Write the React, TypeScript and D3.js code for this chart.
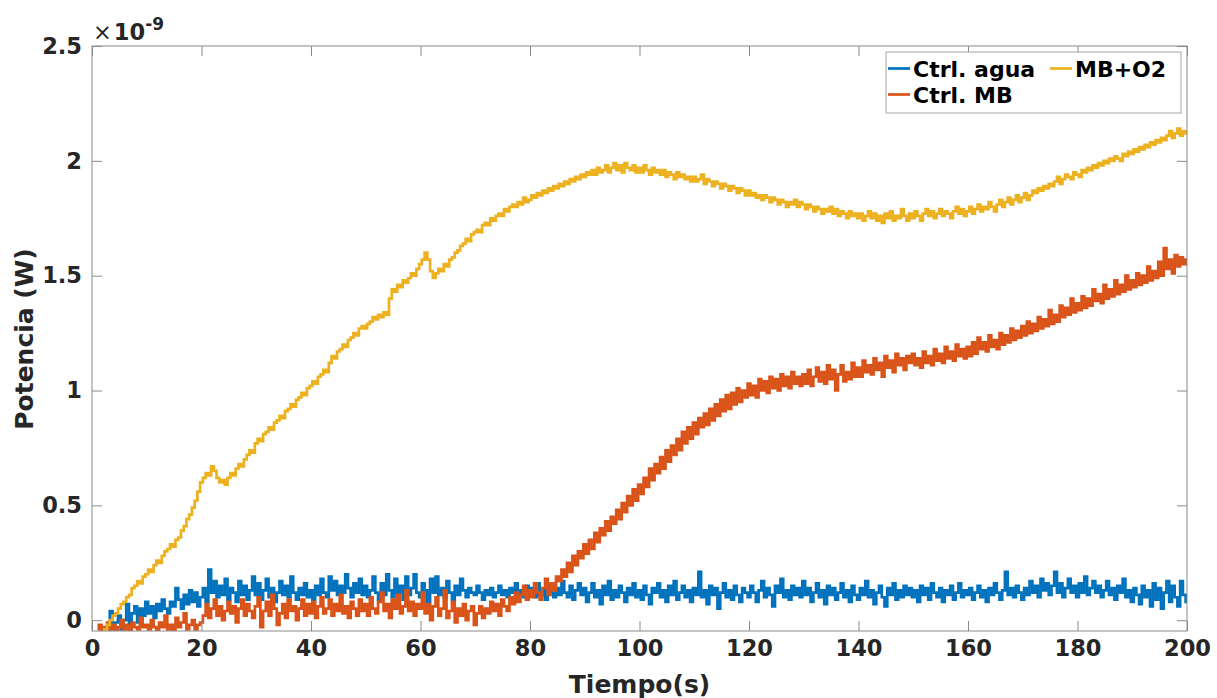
import React from "react";
import * as d3 from "d3";

// values are in units of 1e-9 W, one sample every 0.5 s from the start time
const sampleStep = 0.5;

const aguaStart = 3;
const agua = [
  -0.05, 0.04, -0.03, -0.01, 0.02, -0.04, 0.0, 0.07, -0.02, 0.03, 0.06, -0.01, 0.05, 0.02,
  0.08, 0.03, 0.06, 0.01, 0.07, 0.04, 0.09, 0.05, 0.03, 0.08, 0.06, 0.14, 0.09, 0.05, 0.11, 0.07, 0.13, 0.08, 0.12, 0.06,
  0.1, 0.14, 0.08, 0.22, 0.12, 0.17, 0.1, 0.15, 0.11, 0.18, 0.09, 0.14, 0.12, 0.08, 0.17, 0.11, 0.15, 0.09, 0.13, 0.19,
  0.11, 0.16, 0.09, 0.13, 0.18, 0.1, 0.14, 0.08, 0.12, 0.17, 0.11, 0.15, 0.1, 0.19, 0.12, 0.09, 0.14, 0.11, 0.16, 0.1,
  0.13, 0.09, 0.15, 0.11, 0.18, 0.12, 0.1, 0.19, 0.13, 0.17, 0.11, 0.15, 0.12, 0.2, 0.14, 0.1, 0.16, 0.12, 0.18, 0.11,
  0.15, 0.1, 0.13, 0.19, 0.12, 0.09, 0.16, 0.11, 0.2, 0.13, 0.1, 0.18, 0.12, 0.15, 0.09, 0.19, 0.11, 0.14, 0.2, 0.12,
  0.1, 0.16, 0.13, 0.08, 0.18, 0.12, 0.19, 0.11, 0.14, 0.1, 0.17, 0.12, 0.09, 0.15, 0.11, 0.18, 0.13, 0.1, 0.14, 0.12,
  0.11, 0.15, 0.12, 0.09, 0.13, 0.11, 0.14, 0.1, 0.12, 0.15, 0.11, 0.13, 0.1, 0.14, 0.12, 0.16, 0.11, 0.13, 0.1, 0.15,
  0.12, 0.14, 0.1, 0.16, 0.11, 0.13, 0.09, 0.15, 0.12, 0.1, 0.14, 0.11, 0.17, 0.12, 0.1, 0.15, 0.09, 0.13, 0.16, 0.11,
  0.14, 0.08, 0.12, 0.16, 0.1, 0.13, 0.07, 0.15, 0.11, 0.17, 0.09, 0.13, 0.1, 0.15, 0.12, 0.08, 0.14, 0.11, 0.16, 0.1,
  0.13, 0.09, 0.15, 0.11, 0.07, 0.14, 0.12, 0.16, 0.1, 0.13, 0.08, 0.15, 0.11, 0.17, 0.09, 0.12, 0.15, 0.1, 0.13, 0.08,
  0.14, 0.11, 0.21, 0.1, 0.13, 0.07, 0.15, 0.11, 0.14, 0.05, 0.12, 0.16, 0.1, 0.13, 0.09, 0.15, 0.11, 0.08, 0.14, 0.12,
  0.1, 0.15, 0.12, 0.08, 0.13, 0.17, 0.1, 0.14, 0.11, 0.06, 0.15, 0.12, 0.18, 0.1, 0.13, 0.09, 0.15, 0.11, 0.14, 0.1,
  0.17, 0.11, 0.14, 0.08, 0.12, 0.16, 0.1, 0.13, 0.07, 0.15, 0.11, 0.14, 0.09, 0.12, 0.16, 0.1, 0.13, 0.08, 0.15, 0.11,
  0.09, 0.14, 0.11, 0.17, 0.1, 0.13, 0.07, 0.12, 0.15, 0.1, 0.06, 0.14, 0.11, 0.16, 0.09, 0.13, 0.1, 0.15, 0.11, 0.14,
  0.1, 0.13, 0.08, 0.15, 0.11, 0.14, 0.09, 0.16, 0.12, 0.1, 0.14, 0.08, 0.13, 0.11, 0.15, 0.09, 0.12, 0.16, 0.1, 0.13,
  0.11, 0.14, 0.09, 0.12, 0.15, 0.1, 0.13, 0.08, 0.14, 0.11, 0.16, 0.12, 0.09, 0.13, 0.21, 0.11, 0.14, 0.1, 0.15, 0.12,
  0.09, 0.14, 0.11, 0.17, 0.12, 0.15, 0.1, 0.18, 0.13, 0.16, 0.11, 0.15, 0.21, 0.12, 0.16, 0.1, 0.14, 0.18, 0.12, 0.15,
  0.1, 0.16, 0.12, 0.19, 0.11, 0.14, 0.17, 0.12, 0.15, 0.1, 0.13, 0.17, 0.11, 0.14, 0.09, 0.15, 0.12, 0.18, 0.1, 0.13,
  0.08, 0.14, 0.11, 0.07, 0.15, 0.1, 0.13, 0.06, 0.16, 0.09, 0.14, 0.05, 0.12, 0.17, 0.08, 0.15, 0.1, 0.06, 0.17, 0.11,
  0.08,
];

const ctrlMBStart = 1;
const ctrlMB = [
  -0.04, -0.02, -0.05, -0.03, -0.01, -0.04, -0.02, -0.05, -0.03, 0.0, -0.04, -0.02, -0.05, -0.01, -0.03, -0.04, 0.01, -0.03,
  -0.02, -0.04, 0.0, -0.03, -0.05, -0.01, -0.03, 0.02, -0.04, -0.02, -0.05, 0.01, -0.03, -0.01, 0.03, -0.04, -0.02, 0.0, -0.04, -0.02,
  -0.01, 0.02, 0.07, 0.01, 0.05, 0.09, 0.02, 0.06, 0.0, 0.04, 0.08, 0.03, 0.06, -0.01, 0.05, 0.09, 0.02, 0.07, 0.04, 0.01,
  0.06, 0.1, -0.03, 0.04, 0.08, 0.02, 0.11, 0.05, -0.02, 0.03, 0.07, 0.01, 0.09, 0.04, 0.06, 0.0, 0.05, 0.09, 0.02, 0.07,
  0.03, 0.08, 0.01, 0.06, 0.1, 0.03, 0.05, 0.09, 0.02, 0.07, 0.04, 0.11, 0.03, 0.06, 0.01, 0.08, 0.05, 0.02, 0.09, 0.04,
  0.07, 0.02, 0.1, 0.05, 0.03, 0.08, 0.12, 0.04, 0.07, 0.01, 0.09, 0.05, 0.11, 0.03, 0.06, 0.13, 0.04, 0.08, 0.02, 0.07,
  0.05, 0.12, 0.03, 0.07, 0.0, 0.06, 0.1, 0.02, 0.05, 0.13, 0.01, 0.04, 0.08, -0.01, 0.05, 0.02, 0.07, 0.0, 0.04, 0.06,
  -0.02, 0.03, 0.06, 0.01, 0.05, 0.03, 0.08, 0.04, 0.07, 0.02, 0.09, 0.06, 0.04, 0.1, 0.07, 0.12, 0.08, 0.11, 0.15, 0.09,
  0.13, 0.1, 0.16, 0.12, 0.09, 0.14, 0.18, 0.11, 0.16, 0.13, 0.19, 0.17, 0.22, 0.19, 0.25, 0.21, 0.28, 0.24, 0.3, 0.27,
  0.33, 0.29, 0.35, 0.31, 0.38, 0.34, 0.4, 0.37, 0.43, 0.39, 0.45, 0.42, 0.48, 0.44, 0.51, 0.47, 0.54, 0.5, 0.57, 0.52,
  0.59, 0.55, 0.62, 0.58, 0.66, 0.61, 0.68, 0.64, 0.71, 0.66, 0.74, 0.69, 0.76, 0.72, 0.79, 0.74, 0.82, 0.77, 0.84, 0.79,
  0.86, 0.81, 0.88, 0.84, 0.9, 0.85, 0.92, 0.87, 0.94, 0.89, 0.96, 0.91, 0.98, 0.92, 0.99, 0.94, 1.01, 0.95, 1.0, 0.97,
  1.03, 0.98, 1.02, 0.97, 1.05, 1.0, 1.04, 0.99, 1.06, 1.01, 1.05, 1.0, 1.07, 1.02, 1.06, 1.01, 1.08, 1.03, 1.06, 1.02,
  1.07, 1.03, 1.09, 1.02, 1.06, 1.1, 1.04, 1.08, 1.03, 1.11, 1.05, 1.09, 1.0, 1.07, 1.11, 1.04, 1.08, 1.05, 1.12, 1.06,
  1.1, 1.06, 1.13, 1.08, 1.11, 1.07, 1.14, 1.09, 1.12, 1.06, 1.15, 1.1, 1.13, 1.08, 1.16, 1.11, 1.14, 1.09, 1.15, 1.12,
  1.16, 1.11, 1.14, 1.1, 1.17, 1.12, 1.15, 1.11, 1.18, 1.13, 1.16, 1.12, 1.19, 1.14, 1.17, 1.13, 1.2, 1.15, 1.18, 1.14,
  1.19, 1.15, 1.21, 1.16, 1.23, 1.18, 1.21, 1.17, 1.24, 1.19, 1.22, 1.18, 1.25, 1.2, 1.24, 1.21, 1.27, 1.22, 1.26, 1.23,
  1.28, 1.24, 1.3, 1.25, 1.29, 1.26, 1.32, 1.27, 1.31, 1.28, 1.35, 1.29, 1.33, 1.3, 1.37, 1.32, 1.36, 1.33, 1.4, 1.34,
  1.38, 1.35, 1.41, 1.36, 1.4, 1.37, 1.44, 1.39, 1.42, 1.38, 1.46, 1.4, 1.44, 1.41, 1.48, 1.42, 1.46, 1.43, 1.5, 1.44,
  1.48, 1.45, 1.51, 1.46, 1.5, 1.47, 1.54, 1.48, 1.52, 1.49, 1.56, 1.5, 1.62, 1.53, 1.57, 1.51, 1.59, 1.54, 1.58, 1.55,
  1.57,
];

const mbO2Start = 2;
const mbO2 = [
  -0.05, -0.04, -0.02, 0.0, 0.02, 0.03, 0.05, 0.07, 0.08, 0.1, 0.11, 0.14, 0.15, 0.17, 0.16, 0.19,
  0.2, 0.22, 0.21, 0.24, 0.26, 0.25, 0.28, 0.3, 0.31, 0.33, 0.32, 0.35, 0.36, 0.39, 0.41, 0.44, 0.46, 0.49, 0.52, 0.56,
  0.6, 0.62, 0.64, 0.63, 0.67, 0.65, 0.62, 0.6, 0.61, 0.59, 0.62, 0.64, 0.63, 0.66, 0.68, 0.67, 0.7, 0.72, 0.74, 0.73,
  0.77, 0.79, 0.78, 0.81, 0.82, 0.84, 0.83, 0.86, 0.87, 0.89, 0.88, 0.91, 0.92, 0.94, 0.93, 0.96, 0.97, 0.99, 0.98, 1.01,
  1.02, 1.04, 1.03, 1.06, 1.07, 1.09, 1.08, 1.12, 1.15, 1.14, 1.17, 1.18, 1.2, 1.19, 1.22, 1.23, 1.25, 1.24, 1.27, 1.28,
  1.27, 1.29, 1.3, 1.32, 1.31, 1.33, 1.32, 1.34, 1.33, 1.4, 1.44, 1.43, 1.46, 1.45, 1.48, 1.47, 1.49, 1.51, 1.5, 1.53,
  1.55, 1.57, 1.6, 1.57, 1.52, 1.49, 1.51, 1.53, 1.52, 1.55, 1.54, 1.57, 1.58, 1.6, 1.61, 1.63, 1.64, 1.66, 1.65, 1.68,
  1.69, 1.7, 1.69, 1.72, 1.73, 1.72, 1.75, 1.74, 1.76, 1.77, 1.76, 1.79, 1.78, 1.8, 1.81, 1.8, 1.82, 1.81, 1.84, 1.82,
  1.83, 1.85, 1.84, 1.86, 1.85, 1.87, 1.86, 1.88, 1.87, 1.89, 1.88, 1.9, 1.89, 1.91, 1.9, 1.92, 1.91, 1.93, 1.92, 1.94,
  1.93, 1.95, 1.94, 1.96, 1.94, 1.97, 1.95, 1.96, 1.98, 1.95, 1.97, 1.99, 1.96, 1.98, 1.95, 1.99, 1.97, 1.96, 1.98, 1.95,
  1.97, 1.95, 1.98, 1.96, 1.94, 1.97, 1.95, 1.96, 1.94, 1.96, 1.93, 1.95, 1.94, 1.92, 1.95, 1.93, 1.94, 1.92, 1.93, 1.91,
  1.93, 1.91, 1.92, 1.94, 1.9, 1.92, 1.91, 1.89, 1.91, 1.9, 1.88, 1.9, 1.89, 1.87, 1.89, 1.88, 1.86, 1.88, 1.87, 1.85,
  1.87, 1.85, 1.86, 1.84, 1.85, 1.83, 1.85, 1.84, 1.82, 1.84, 1.83, 1.81, 1.83, 1.82, 1.8, 1.82, 1.81, 1.83, 1.8, 1.82,
  1.81, 1.79, 1.81, 1.8, 1.78, 1.8, 1.79, 1.77, 1.79, 1.78, 1.8, 1.77, 1.79, 1.76, 1.78, 1.77, 1.75, 1.78, 1.76, 1.77,
  1.75, 1.77, 1.74, 1.76, 1.78, 1.75, 1.77, 1.74, 1.76, 1.73, 1.77, 1.75, 1.78, 1.74, 1.76, 1.75, 1.79, 1.76, 1.74, 1.77,
  1.75, 1.78, 1.76, 1.74, 1.77, 1.79, 1.76, 1.78, 1.75, 1.77, 1.79, 1.76, 1.78, 1.77, 1.75, 1.78, 1.8, 1.77, 1.79, 1.76,
  1.78, 1.8, 1.77, 1.79, 1.81, 1.78, 1.8, 1.79, 1.82, 1.8, 1.78, 1.81, 1.83, 1.8, 1.82, 1.84, 1.81, 1.83, 1.85, 1.82,
  1.84, 1.86, 1.83, 1.85, 1.87, 1.86, 1.88, 1.87, 1.89, 1.88, 1.9, 1.89, 1.91, 1.93, 1.9, 1.92, 1.94, 1.93, 1.92, 1.95,
  1.94, 1.93, 1.96, 1.95, 1.97, 1.96, 1.98, 1.97, 1.99, 1.98, 2.0, 1.99, 2.01, 2.0, 2.02, 2.01, 2.0, 2.03, 2.02, 2.04,
  2.03, 2.05, 2.04, 2.06, 2.05, 2.07, 2.06, 2.08, 2.07, 2.09, 2.08, 2.1, 2.09, 2.11, 2.13, 2.1, 2.12, 2.14, 2.11, 2.13,
  2.12,
];

const xTicks = [0, 20, 40, 60, 80, 100, 120, 140, 160, 180, 200];
const yTicks = [0, 0.5, 1, 1.5, 2, 2.5];

const series = [
  { name: "Ctrl. agua", start: aguaStart, values: agua, color: "#0072BD" },
  { name: "Ctrl. MB", start: ctrlMBStart, values: ctrlMB, color: "#D95319" },
  { name: "MB+O2", start: mbO2Start, values: mbO2, color: "#EDB120" },
];

const W = 1217;
const H = 698;
const margin = { left: 92, top: 46, right: 30, bottom: 67 };
const FONT = "'DejaVu Sans', sans-serif";

export default function App() {
  const svgRef = React.useRef<SVGSVGElement>(null);
  const width = W - margin.left - margin.right;
  const height = H - margin.top - margin.bottom;

  React.useEffect(() => {
    const x = d3.scaleLinear().domain([0, 200]).range([0, width]);
    const y = d3.scaleLinear().domain([-0.047, 2.5]).range([height, 0]);

    const svgEl = d3.select(svgRef.current);
    svgEl.selectAll("*").remove();
    const svg = svgEl
      .append("g")
      .attr("transform", `translate(${margin.left},${margin.top})`);

    svg
      .append("clipPath")
      .attr("id", "plot-clip")
      .append("rect")
      .attr("width", width)
      .attr("height", height);

    // data lines
    series.forEach((s) => {
      const gen = d3
        .line<number>()
        .x((_, i) => x(s.start + i * sampleStep))
        .y((d) => y(d))
        .curve(d3.curveStep);
      svg
        .append("path")
        .attr("clip-path", "url(#plot-clip)")
        .attr("fill", "none")
        .attr("stroke", s.color)
        .attr("stroke-width", 2.7)
        .attr("d", gen(s.values));
    });

    // box + ticks
    const styleAxis = (g: any, labels: boolean) => {
      g.select(".domain").remove();
      g.selectAll("line").attr("stroke", "#8a8a8a");
      g.selectAll("text")
        .attr("fill", labels ? "#262626" : "none")
        .attr("font-family", FONT)
        .attr("font-weight", "bold")
        .attr("font-size", 22.5);
    };

    svg
      .append("g")
      .attr("transform", `translate(0,${height})`)
      .call(d3.axisBottom(x).tickValues(xTicks).tickSize(-10).tickPadding(9))
      .call((g: any) => styleAxis(g, true));
    svg
      .append("g")
      .call(d3.axisTop(x).tickValues(xTicks).tickSize(-10).tickFormat(() => ""))
      .call((g: any) => styleAxis(g, false));
    svg
      .append("g")
      .call(
        d3
          .axisLeft(y)
          .tickValues(yTicks)
          .tickSize(-10)
          .tickPadding(10)
          .tickFormat((v: any) => `${v}`)
      )
      .call((g: any) => styleAxis(g, true));
    svg
      .append("g")
      .attr("transform", `translate(${width},0)`)
      .call(d3.axisRight(y).tickValues(yTicks).tickSize(-10).tickFormat(() => ""))
      .call((g: any) => styleAxis(g, false));

    svg
      .append("rect")
      .attr("width", width)
      .attr("height", height)
      .attr("fill", "none")
      .attr("stroke", "#8a8a8a")
      .attr("stroke-width", 1);

    // exponent
    const expo = svg
      .append("text")
      .attr("x", 1)
      .attr("y", -6.5)
      .attr("font-family", FONT)
      .attr("font-size", 22.5)
      .attr("fill", "#262626");
    expo.append("tspan").text("×");
    expo.append("tspan").attr("font-weight", "bold").attr("dx", 2).text("10");
    expo
      .append("tspan")
      .attr("font-weight", "bold")
      .attr("font-size", 17)
      .attr("dy", -10)
      .text("-9");

    // axis titles
    svg
      .append("text")
      .attr("x", width / 2)
      .attr("y", height + 62)
      .attr("text-anchor", "middle")
      .attr("font-family", FONT)
      .attr("font-weight", "bold")
      .attr("font-size", 25)
      .attr("fill", "#262626")
      .text("Tiempo(s)");
    svg
      .append("text")
      .attr("transform", `translate(-59,${339 - margin.top}) rotate(-90)`)
      .attr("text-anchor", "middle")
      .attr("font-family", FONT)
      .attr("font-weight", "bold")
      .attr("font-size", 25)
      .attr("fill", "#262626")
      .text("Potencia (W)");

    // legend
    const leg = svg
      .append("g")
      .attr("transform", `translate(${886 - margin.left},${52 - margin.top})`);
    leg
      .append("rect")
      .attr("width", 295)
      .attr("height", 61)
      .attr("fill", "#fff")
      .attr("stroke", "#a6a6a6")
      .attr("stroke-width", 1);
    const slots = [
      { x: 2, y: 16.5 },
      { x: 2, y: 42.5 },
      { x: 164, y: 16.5 },
    ];
    series.forEach((s, i) => {
      const p = slots[i];
      leg
        .append("line")
        .attr("x1", p.x)
        .attr("x2", p.x + 22)
        .attr("y1", p.y)
        .attr("y2", p.y)
        .attr("stroke", s.color)
        .attr("stroke-width", 2.7);
      leg
        .append("text")
        .attr("x", p.x + 25)
        .attr("y", p.y + 8)
        .attr("font-family", FONT)
        .attr("font-weight", "bold")
        .attr("font-size", 22)
        .attr("fill", "#000")
        .text(s.name);
    });
  }, []);

  return (
    <svg
      ref={svgRef}
      width={W}
      height={H}
      style={{ position: "absolute", left: 0, top: 0, background: "#fff" }}
    />
  );
}
